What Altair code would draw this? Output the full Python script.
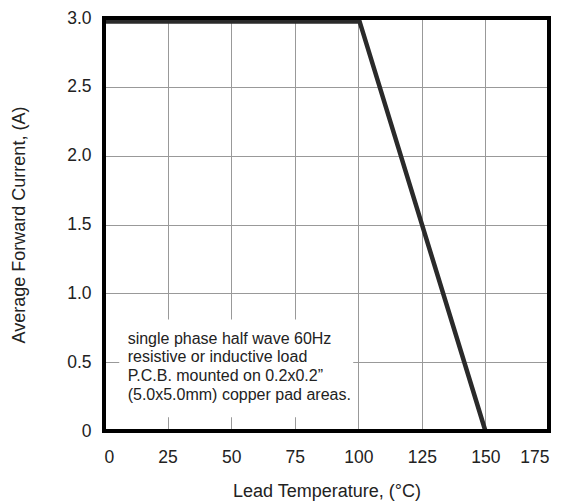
import altair as alt
import pandas as pd

# Derating curve
temp = [0, 100.5, 150]
current = [2.975, 2.975, 0]

x_ticks = [0, 25, 50, 75, 100, 125, 150, 175]
y_ticks = [0, 0.5, 1.0, 1.5, 2.0, 2.5, 3.0]

note_lines = [
    "single phase half wave 60Hz",
    "resistive or inductive load",
    "P.C.B. mounted on 0.2x0.2\u201d",
    "(5.0x5.0mm) copper pad areas.",
]
note_y = [0.668, 0.537, 0.399, 0.261]
note_box = {"x": [6.0], "x2": [98.0], "y": [0.1], "y2": [0.81]}

FONT = "Liberation Sans"

curve = pd.DataFrame({"t": temp, "i": current})
notes = pd.DataFrame({"txt": note_lines, "y": note_y, "x": [9.3] * 4})
box = pd.DataFrame(note_box)
frame = pd.DataFrame({"x": [0], "x2": [175], "y": [0], "y2": [3.0]})

xscale = alt.Scale(domain=[0, 175], nice=False, zero=False)
yscale = alt.Scale(domain=[0, 3.0], nice=False, zero=False)

xaxis = alt.Axis(values=x_ticks, title="Lead Temperature, (\u00b0C)", grid=True,
                 gridColor="#999999", gridWidth=1, domain=False, ticks=False,
                 labelFontSize=17.5, labelFont=FONT, labelColor="#222222",
                 labelPadding=17, titleFontSize=18, titleFont=FONT,
                 titleFontWeight="normal", titleColor="#222222", titlePadding=17)
yaxis = alt.Axis(values=y_ticks, title="Average Forward Current, (A)", grid=True,
                 gridColor="#999999", gridWidth=1, domain=False, ticks=False,
                 labelExpr="datum.value == 0 ? '0' : format(datum.value, '.1f')",
                 labelFontSize=17.5, labelFont=FONT, labelColor="#222222",
                 labelPadding=13, titleFontSize=18, titleFont=FONT,
                 titleFontWeight="normal", titleColor="#222222", titlePadding=38)

line = alt.Chart(curve).mark_line(color="#2a2a2a", strokeWidth=4.5, strokeCap="butt").encode(
    x=alt.X("t:Q", scale=xscale, axis=xaxis),
    y=alt.Y("i:Q", scale=yscale, axis=yaxis),
)

boxl = alt.Chart(box).mark_rect(fill="white", stroke=None).encode(
    x="x:Q", x2="x2", y="y:Q", y2="y2")

text = alt.Chart(notes).mark_text(align="left", baseline="middle", fontSize=16,
                                  font=FONT, color="#222222").encode(
    x="x:Q", y="y:Q", text="txt:N")

framel = alt.Chart(frame).mark_rect(fill=None, stroke="black", strokeWidth=4).encode(
    x="x:Q", x2="x2", y="y:Q", y2="y2")

chart = alt.layer(boxl, text, line, framel).properties(
    width=445, height=413,
    autosize=alt.AutoSizeParams(type="none"),
    padding={"left": 96, "top": 10, "right": 5, "bottom": 90},
).configure_view(stroke=None)

chart.save("out.html", embed_options={"renderer": "svg", "actions": False})
